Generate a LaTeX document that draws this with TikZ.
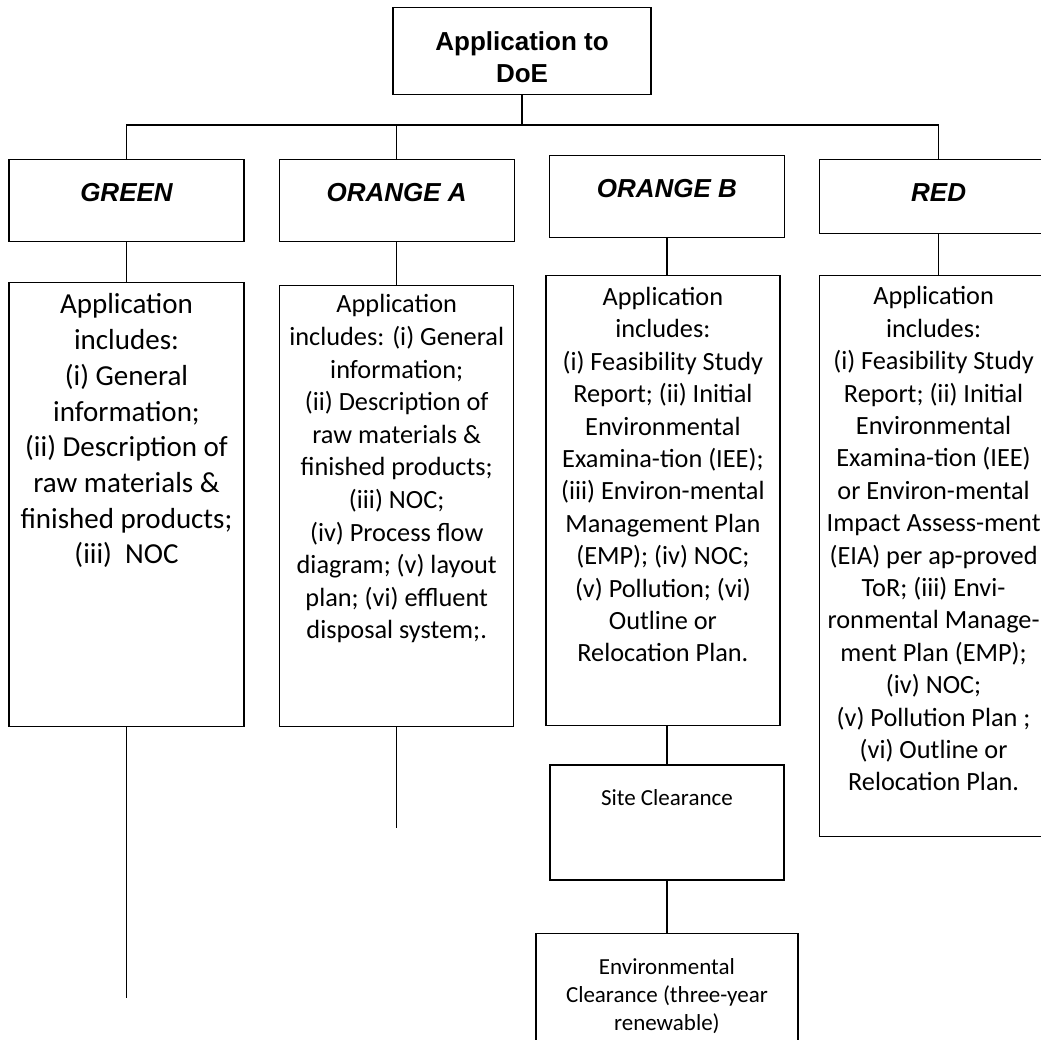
\documentclass[tikz,border=0pt]{standalone}
\usepackage{fontspec}
\setmainfont{Carlito}
\newfontfamily\arialfont{Liberation Sans}
\usetikzlibrary{positioning}

\begin{document}
\begin{tikzpicture}[x=1pt, y=-1pt, line width=1.2pt,
  box/.style={draw, inner xsep=2pt, inner ysep=0pt, align=center},
  top/.style={box, minimum width=258pt, text height=75pt, text depth=12pt, font=\arialfont\bfseries\fontsize{26}{32}\selectfont},
  head/.style={box, minimum width=235pt, text height=42pt, text depth=40pt, font=\arialfont\bfseries\itshape\fontsize{26}{32}\selectfont},
  info/.style={box, minimum width=234pt, font=\fontsize{26.3}{32.4}\selectfont},
  clear/.style={box, minimum width=234pt, font=\fontsize{23}{28}\selectfont}]

\useasboundingbox (0,0) rectangle (1041,1039);

\node[top] (doe) [anchor=north] at (522,7) {Application to\\DoE};

\node[head] (green) [anchor=north] at (126.5,159) {GREEN};
\node[head] (orA) [right=34pt of green] {ORANGE A};
\node[head] (orB) [right=34pt of orA, yshift=4pt] {ORANGE B};
\node[head, minimum width=238pt, text depth=32pt] (red) [right=34pt of orB] {RED};

\node[info, minimum width=235pt, text height=281pt, text depth=163pt, font=\fontsize{29}{35.7}\selectfont] (greenInfo) [below=40pt of green]
  {Application\\includes:\\(i) General\\information;\\(ii) Description of\\raw materials \&\\finished products;\\(iii)\ \ NOC};
\node[info, text height=353pt, text depth=88pt, font=\fontsize{26.3}{32.6}\selectfont] (orAInfo) [below=43pt of orA]
  {Application\\includes: (i) General\\information;\\(ii) Description of\\raw materials \&\\finished products;\\(iii) NOC;\\(iv) Process flow\\diagram; (v) layout\\plan; (vi) effluent\\disposal system;.};
\node[info, text height=386pt, text depth=64pt] (orBInfo) [below=37pt of orB, xshift=-4pt]
  {Application\\includes:\\(i) Feasibility Study\\Report; (ii) Initial\\Environmental\\Examina-tion (IEE);\\(iii) Environ-mental\\Management Plan\\(EMP); (iv) NOC;\\(v) Pollution; (vi)\\Outline or\\Relocation Plan.};
\node[info, minimum width=228pt, text height=515pt, text depth=46pt] (redInfo) [below=41pt of red, xshift=-5pt]
  {Application\\includes:\\(i) Feasibility Study\\Report; (ii) Initial\\Environmental\\Examina-tion (IEE)\\or Environ-mental\\Impact Assess-ment\\(EIA) per ap-proved\\ToR; (iii) Envi-\\ronmental Manage-\\ment Plan (EMP);\\(iv) NOC;\\(v) Pollution Plan ;\\(vi) Outline or\\Relocation Plan.};

\node[clear, text height=40pt, text depth=75pt] (site) [below=38pt of orBInfo, xshift=4pt] {Site Clearance};
\node[clear, minimum width=262pt, text height=97pt, text depth=34pt] (env) [below=52pt of site]
  {Environmental\\Clearance (three-year\\renewable)};

\coordinate (bus) at (0,125);
\coordinate[below=271pt of greenInfo.south] (greenEnd);
\coordinate[below=101pt of orAInfo.south] (orAEnd);

\draw[-] (doe.south) -- (doe.south |- bus);
\draw[-] (green.north) -- (green.north |- bus) -- (red.north |- bus) -- (red.north);
\draw[-] (orA.north) -- (orA.north |- bus);

\draw[-] (green.south) -- (greenInfo.north);
\draw[-] (orA.south) -- (orAInfo.north);
\draw[-] (orB.south) -- (orB.south |- orBInfo.north);
\draw[-] (red.south) -- (red.south |- redInfo.north);

\draw[-] (greenInfo.south) -- (greenEnd);
\draw[-] (orAInfo.south) -- (orAEnd);
\draw[-] (site.north |- orBInfo.south) -- (site.north);
\draw[-] (site.south) -- (env.north);

\end{tikzpicture}
\end{document}
